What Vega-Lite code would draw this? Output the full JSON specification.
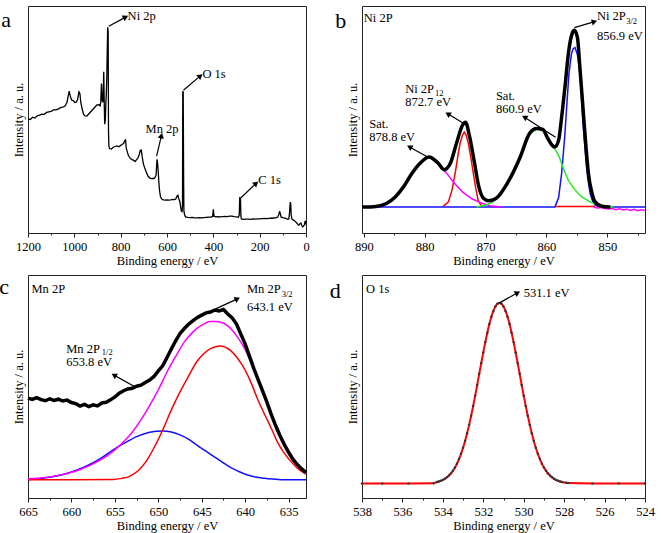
{
"$schema": "https://vega.github.io/schema/vega-lite/v6.json",
"padding": {"left": -2, "top": 5, "right": 4, "bottom": 2},
"background": "white",
"config": {
  "font": "Liberation Serif",
  "view": {"stroke": "#222", "strokeWidth": 1},
  "axis": {"labelFont": "Liberation Serif", "titleFont": "Liberation Serif", "labelFontSize": 12.5, "titleFontSize": 12.5, "titleFontWeight": "normal", "labelColor": "#000", "titleColor": "#000", "domain": false, "grid": false, "tickColor": "#222"},
  "text": {"font": "Liberation Serif", "color": "#000"}
},
"columns": 2,
"spacing": {"row": 42, "column": 56},
"bounds": "flush",
"datasets": {
  "a": [
    {"E":1200,"I":50.3},{"E":1190,"I":50.0},{"E":1180,"I":51.0},{"E":1170,"I":50.7},{"E":1160,"I":51.6},{"E":1150,"I":51.9},{"E":1140,"I":52.4},{"E":1130,"I":52.3},{"E":1120,"I":53.1},{"E":1110,"I":53.4},{"E":1100,"I":53.6},{"E":1090,"I":54.2},{"E":1080,"I":54.3},{"E":1070,"I":54.6},{"E":1060,"I":55.2},{"E":1050,"I":55.4},{"E":1040,"I":55.9},{"E":1032,"I":57.5},{"E":1026,"I":60.5},{"E":1022,"I":62.5},{"E":1018,"I":60.5},{"E":1012,"I":58.6},{"E":1005,"I":58.3},{"E":998,"I":57.5},{"E":992,"I":57.6},{"E":986,"I":58.8},{"E":980,"I":62.2},{"E":976,"I":61.5},{"E":972,"I":57.5},{"E":966,"I":54.5},{"E":960,"I":52.2},{"E":954,"I":51.6},{"E":946,"I":51.5},{"E":938,"I":52.4},{"E":930,"I":53.3},{"E":920,"I":54.4},{"E":910,"I":55.6},{"E":902,"I":56.4},{"E":894,"I":56.5},{"E":889,"I":56.0},{"E":886,"I":57.5},{"E":883,"I":65.8},{"E":880,"I":58.5},{"E":877,"I":57.6},{"E":875,"I":63},{"E":873,"I":71},{"E":871,"I":58},{"E":869,"I":47.9},{"E":866,"I":50},{"E":864,"I":57},{"E":862,"I":61.3},{"E":860,"I":68},{"E":858,"I":80},{"E":856,"I":90.6},{"E":854,"I":89},{"E":852.5,"I":45},{"E":851,"I":38.4},{"E":848,"I":37.2},{"E":840,"I":37.0},{"E":832,"I":37.8},{"E":824,"I":38.1},{"E":816,"I":38.4},{"E":808,"I":38.0},{"E":800,"I":38.6},{"E":794,"I":39.0},{"E":787,"I":39.5},{"E":783,"I":40.6},{"E":779,"I":41.0},{"E":776,"I":37.5},{"E":771,"I":35.5},{"E":766,"I":34.0},{"E":758,"I":32.8},{"E":750,"I":32.3},{"E":744,"I":32.0},{"E":738,"I":31.5},{"E":732,"I":32.2},{"E":726,"I":33.0},{"E":720,"I":34.5},{"E":715,"I":36.4},{"E":711,"I":36.5},{"E":707,"I":33.5},{"E":702,"I":30.5},{"E":696,"I":28.6},{"E":690,"I":27.0},{"E":683,"I":25.2},{"E":676,"I":24.4},{"E":669,"I":24.0},{"E":662,"I":24.1},{"E":656,"I":24.0},{"E":651,"I":24.6},{"E":647,"I":25.5},{"E":645,"I":29.5},{"E":643,"I":32.5},{"E":641,"I":31.0},{"E":638,"I":27.5},{"E":635,"I":22},{"E":632,"I":18.5},{"E":628,"I":16.0},{"E":624,"I":15.2},{"E":621,"I":14.8},{"E":615,"I":14.6},{"E":608,"I":14.5},{"E":600,"I":14.6},{"E":592,"I":14.5},{"E":584,"I":14.6},{"E":576,"I":14.8},{"E":568,"I":14.7},{"E":562,"I":15.0},{"E":557,"I":16.2},{"E":553,"I":16.6},{"E":550,"I":15.3},{"E":545,"I":14.0},{"E":541,"I":11.5},{"E":538,"I":9.6},{"E":535,"I":9.4},{"E":533,"I":12},{"E":532,"I":62.4},{"E":530,"I":62.0},{"E":529,"I":40},{"E":528,"I":21},{"E":527,"I":9.8},{"E":524,"I":8.0},{"E":520,"I":7.1},{"E":510,"I":6.9},{"E":500,"I":6.8},{"E":490,"I":6.9},{"E":480,"I":6.7},{"E":470,"I":6.7},{"E":460,"I":6.8},{"E":450,"I":6.7},{"E":440,"I":6.8},{"E":430,"I":6.9},{"E":420,"I":7.0},{"E":410,"I":7.0},{"E":403,"I":7.3},{"E":400,"I":10.4},{"E":397,"I":7.4},{"E":390,"I":7.1},{"E":380,"I":7.2},{"E":370,"I":7.1},{"E":360,"I":7.2},{"E":350,"I":7.3},{"E":340,"I":7.2},{"E":330,"I":7.4},{"E":320,"I":7.4},{"E":310,"I":7.2},{"E":300,"I":7.1},{"E":292,"I":6.9},{"E":288,"I":8},{"E":286,"I":15.5},{"E":283,"I":15.3},{"E":281,"I":7.5},{"E":279,"I":6.2},{"E":270,"I":6.0},{"E":260,"I":6.1},{"E":250,"I":6.1},{"E":240,"I":6.0},{"E":230,"I":6.2},{"E":220,"I":6.1},{"E":210,"I":6.2},{"E":200,"I":6.2},{"E":190,"I":6.3},{"E":180,"I":6.4},{"E":170,"I":6.3},{"E":160,"I":6.4},{"E":150,"I":6.5},{"E":140,"I":6.6},{"E":130,"I":6.7},{"E":122,"I":7.0},{"E":117,"I":8.2},{"E":114,"I":9.6},{"E":111,"I":8.5},{"E":107,"I":7.0},{"E":100,"I":6.8},{"E":92,"I":6.6},{"E":85,"I":6.3},{"E":78,"I":6.0},{"E":74,"I":6.2},{"E":71,"I":9.0},{"E":68,"I":13.6},{"E":66,"I":13.0},{"E":64,"I":8.0},{"E":61,"I":6.2},{"E":57,"I":5.9},{"E":50,"I":5.4},{"E":44,"I":4.9},{"E":38,"I":4.2},{"E":33,"I":3.4},{"E":29,"I":3.6},{"E":26,"I":4.1},{"E":22,"I":4.4},{"E":19,"I":3.5},{"E":15,"I":2.7},{"E":11,"I":3.0},{"E":7,"I":3.6},{"E":4,"I":5.2},{"E":2,"I":4.5},{"E":0,"I":5.4}
  ],
  "aNote": [
    {"t":"Ni 2p","E":770,"I":95.5,"k":"main"},{"t":"O 1s","E":447,"I":70.1,"k":"main"},{"t":"Mn 2p","E":692.5,"I":46.0,"k":"main"},{"t":"C 1s","E":206,"I":23.2,"k":"main"},
    {"t":"a","E":1316,"I":90.7,"k":"letter"}
  ],
  "aArrow": [
    {"E":851.6,"I":91.1,"E2":778.5,"I2":95.1,"dir":"ENE"},
    {"E":529,"I":62.9,"E2":456,"I2":69.2,"dir":"NE"},
    {"E":645,"I":33.9,"E2":624,"I2":42.9,"dir":"N"},
    {"E":284,"I":15.2,"E2":215,"I2":21.9,"dir":"NE"}
  ],
  "b": [
    {"s":"blue","E":890.3,"I":11.5},{"s":"blue","E":858.6,"I":11.5},{"s":"blue","E":858.0,"I":15.5},{"s":"blue","E":857.5,"I":26.2},{"s":"blue","E":857.0,"I":42},{"s":"blue","E":856.6,"I":58.3},{"s":"blue","E":856.3,"I":70},{"s":"blue","E":855.9,"I":78.8},{"s":"blue","E":855.6,"I":81.2},{"s":"blue","E":855.3,"I":81.7},{"s":"blue","E":854.9,"I":78.5},{"s":"blue","E":854.6,"I":73.0},{"s":"blue","E":854.3,"I":63},{"s":"blue","E":854.05,"I":51.0},{"s":"blue","E":853.8,"I":42},{"s":"blue","E":853.5,"I":32.0},{"s":"blue","E":853.2,"I":24},{"s":"blue","E":852.8,"I":17.4},{"s":"blue","E":852.4,"I":14},{"s":"blue","E":852.0,"I":12.3},{"s":"blue","E":851.2,"I":11.5},{"s":"blue","E":843.8,"I":11.5},
    {"s":"red","E":877.0,"I":11.6},{"s":"red","E":876.1,"I":13.7},{"s":"red","E":875.5,"I":19},{"s":"red","E":875.0,"I":26.2},{"s":"red","E":874.6,"I":33},{"s":"red","E":874.2,"I":39.3},{"s":"red","E":873.8,"I":43},{"s":"red","E":873.5,"I":44.4},{"s":"red","E":873.2,"I":43.3},{"s":"red","E":872.8,"I":39.3},{"s":"red","E":872.4,"I":33},{"s":"red","E":872.0,"I":26.2},{"s":"red","E":871.6,"I":19.5},{"s":"red","E":871.2,"I":14.2},{"s":"red","E":870.6,"I":11.6},
    {"s":"red2","E":858.6,"I":11.7},{"s":"red2","E":852.0,"I":11.7},
    {"s":"mag","E":890.3,"I":11.4},{"s":"mag","E":888,"I":11.7},{"s":"mag","E":886.3,"I":13.0},{"s":"mag","E":884.8,"I":16},{"s":"mag","E":883.3,"I":21},{"s":"mag","E":882.3,"I":25.4},{"s":"mag","E":880.8,"I":30.6},{"s":"mag","E":879.3,"I":33.5},{"s":"mag","E":877.8,"I":30.6},{"s":"mag","E":876.8,"I":27.6},{"s":"mag","E":875.8,"I":24.3},{"s":"mag","E":875.3,"I":22.5},{"s":"mag","E":874.5,"I":20.2},{"s":"mag","E":873.8,"I":18.1},{"s":"mag","E":872.3,"I":15.2},{"s":"mag","E":870.8,"I":13.3},{"s":"mag","E":869.3,"I":12.0},{"s":"mag","E":867.3,"I":11.5},
    {"s":"mag2","E":852.2,"I":11.3},{"s":"mag2","E":851.6,"I":11.0},{"s":"mag2","E":851,"I":11.2},{"s":"mag2","E":850.4,"I":10.8},{"s":"mag2","E":849.8,"I":10.6},{"s":"mag2","E":849.2,"I":10.9},{"s":"mag2","E":848.6,"I":10.3},{"s":"mag2","E":848,"I":10.7},{"s":"mag2","E":847.4,"I":10.1},{"s":"mag2","E":846.8,"I":10.5},{"s":"mag2","E":846.2,"I":9.9},{"s":"mag2","E":845.6,"I":10.4},{"s":"mag2","E":845,"I":9.8},{"s":"mag2","E":844.4,"I":10.2},{"s":"mag2","E":843.8,"I":9.9},
    {"s":"green","E":871.5,"I":11.5},{"s":"green","E":870,"I":12.2},{"s":"green","E":869,"I":13.4},{"s":"green","E":868.3,"I":15.0},{"s":"green","E":866.3,"I":22.3},{"s":"green","E":864.3,"I":33.3},{"s":"green","E":862.8,"I":43.5},{"s":"green","E":861.6,"I":45.8},{"s":"green","E":860.6,"I":45.4},{"s":"green","E":859.8,"I":41.6},{"s":"green","E":859.1,"I":38.6},{"s":"green","E":858.5,"I":36.5},{"s":"green","E":858.0,"I":34.3},{"s":"green","E":857.5,"I":30.6},{"s":"green","E":857.0,"I":27},{"s":"green","E":856.4,"I":23.2},{"s":"green","E":855.3,"I":18.9},{"s":"green","E":854.2,"I":15.9},{"s":"green","E":852.8,"I":13.7},{"s":"green","E":852.0,"I":12.7},{"s":"green","E":850.9,"I":11.5},{"s":"green","E":849,"I":11.5},
    {"s":"data","E":890.3,"I":11.4},{"s":"data","E":888,"I":11.7},{"s":"data","E":886.3,"I":13.0},{"s":"data","E":884.8,"I":16},{"s":"data","E":883.3,"I":21},{"s":"data","E":882.3,"I":25.4},{"s":"data","E":880.8,"I":30.6},{"s":"data","E":879.3,"I":33.5},{"s":"data","E":877.8,"I":30.8},{"s":"data","E":876.8,"I":27.9},{"s":"data","E":875.8,"I":30.6},{"s":"data","E":874.8,"I":39.3},{"s":"data","E":873.8,"I":47.4},{"s":"data","E":873.3,"I":48.8},{"s":"data","E":872.6,"I":42.2},{"s":"data","E":871.8,"I":30.6},{"s":"data","E":871.1,"I":20.3},{"s":"data","E":870.3,"I":15.2},{"s":"data","E":869.5,"I":14.2},{"s":"data","E":868.3,"I":15.2},{"s":"data","E":866.3,"I":22.5},{"s":"data","E":864.3,"I":33.5},{"s":"data","E":862.8,"I":43.7},{"s":"data","E":861.6,"I":46.0},{"s":"data","E":860.6,"I":45.6},{"s":"data","E":859.8,"I":41.8},{"s":"data","E":859.1,"I":38.8},{"s":"data","E":858.6,"I":37.9},{"s":"data","E":858.0,"I":40.8},{"s":"data","E":857.5,"I":51.0},{"s":"data","E":856.9,"I":65.6},{"s":"data","E":856.4,"I":78.8},{"s":"data","E":855.8,"I":87.6},{"s":"data","E":855.4,"I":89.3},{"s":"data","E":854.9,"I":86.1},{"s":"data","E":854.5,"I":73.0},{"s":"data","E":854.0,"I":55.4},{"s":"data","E":853.5,"I":37.9},{"s":"data","E":853.1,"I":26.2},{"s":"data","E":852.5,"I":17.4},{"s":"data","E":852.0,"I":13.7},{"s":"data","E":850.9,"I":11.8},{"s":"data","E":849.5,"I":11.4}
  ],
  "bNote": [
    {"t":"Ni 2P","E":890.0,"I":94.9,"k":"main"},
    {"t":"Ni 2P","E":851.7,"I":95.6,"k":"main"},
    {"t":"3/2","E":846.9,"I":93.4,"k":"sub"},
    {"t":"856.9 eV","E":851.7,"I":86.8,"k":"main"},
    {"t":"Ni 2P","E":883.2,"I":63.6,"k":"main"},
    {"t":"12","E":878.3,"I":61.8,"k":"sub"},
    {"t":"872.7 eV","E":883.2,"I":57.6,"k":"main"},
    {"t":"Sat.","E":889.1,"I":48.1,"k":"main"},
    {"t":"878.8 eV","E":889.1,"I":42.2,"k":"main"},
    {"t":"Sat.","E":868.3,"I":60.5,"k":"main"},
    {"t":"860.9 eV","E":868.3,"I":54.7,"k":"main"},
    {"t":"b","E":894.7,"I":90.3,"k":"letter"}
  ],
  "bArrow": [
    {"E":855.4,"I":90.5,"E2":852.1,"I2":93.1,"dir":"E"},
    {"E":858.5,"I":42.2,"E2":863.6,"I2":51.0,"dir":"W"},
    {"E":873.5,"I":48.1,"E2":876.2,"I2":52.5,"dir":"W"},
    {"E":879.5,"I":33.5,"E2":882.5,"I2":37.9,"dir":"W"}
  ],
  "c": [
    {"s":"blue","E":665,"I":8.2},{"s":"blue","E":662.5,"I":9.3},{"s":"blue","E":661.05,"I":10.4},{"s":"blue","E":659.5,"I":12.3},{"s":"blue","E":657.95,"I":14.9},{"s":"blue","E":656.5,"I":18.1},{"s":"blue","E":655.2,"I":21.6},{"s":"blue","E":653.8,"I":24.8},{"s":"blue","E":652.5,"I":27.5},{"s":"blue","E":651.0,"I":29.5},{"s":"blue","E":649.5,"I":30.1},{"s":"blue","E":648.5,"I":29.6},{"s":"blue","E":647.5,"I":28.3},{"s":"blue","E":646.5,"I":26.3},{"s":"blue","E":645.6,"I":23.8},{"s":"blue","E":644.6,"I":21.2},{"s":"blue","E":643.6,"I":18.6},{"s":"blue","E":642.6,"I":16.0},{"s":"blue","E":641.7,"I":13.7},{"s":"blue","E":640.8,"I":12.0},{"s":"blue","E":639.8,"I":10.4},{"s":"blue","E":638.8,"I":9.4},{"s":"blue","E":637.8,"I":8.9},{"s":"blue","E":636.8,"I":8.5},{"s":"blue","E":635.9,"I":8.2},{"s":"blue","E":633,"I":8.2},
    {"s":"red","E":665,"I":8.2},{"s":"red","E":660,"I":8.2},{"s":"red","E":655.2,"I":8.3},{"s":"red","E":654.2,"I":8.8},{"s":"red","E":653.3,"I":9.7},{"s":"red","E":652.3,"I":12.3},{"s":"red","E":651.4,"I":16.4},{"s":"red","E":650.4,"I":23.2},{"s":"red","E":649.4,"I":31.3},{"s":"red","E":648.5,"I":39.5},{"s":"red","E":647.5,"I":47.6},{"s":"red","E":646.5,"I":54.8},{"s":"red","E":645.6,"I":61.0},{"s":"red","E":644.8,"I":64.6},{"s":"red","E":644.0,"I":67.0},{"s":"red","E":642.9,"I":68.2},{"s":"red","E":641.7,"I":66.2},{"s":"red","E":640.9,"I":62.8},{"s":"red","E":640.1,"I":58.0},{"s":"red","E":639.3,"I":51.5},{"s":"red","E":638.6,"I":44.6},{"s":"red","E":637.8,"I":37.8},{"s":"red","E":637.0,"I":31.3},{"s":"red","E":636.3,"I":25.2},{"s":"red","E":635.5,"I":20.1},{"s":"red","E":634.7,"I":16.2},{"s":"red","E":634.0,"I":13.4},{"s":"red","E":633.0,"I":10.7},
    {"s":"mag","E":665,"I":8.6},{"s":"mag","E":663,"I":9.2},{"s":"mag","E":661,"I":10.6},{"s":"mag","E":659,"I":12.8},{"s":"mag","E":657,"I":16.3},{"s":"mag","E":655,"I":21.6},{"s":"mag","E":654,"I":25.2},{"s":"mag","E":653,"I":29.5},{"s":"mag","E":652,"I":35},{"s":"mag","E":651,"I":41.4},{"s":"mag","E":650,"I":48.5},{"s":"mag","E":649,"I":56.5},{"s":"mag","E":648,"I":63.5},{"s":"mag","E":647,"I":70.0},{"s":"mag","E":646,"I":74.5},{"s":"mag","E":645,"I":77.5},{"s":"mag","E":644,"I":79.1},{"s":"mag","E":643.5,"I":79.2},{"s":"mag","E":643,"I":79.0},{"s":"mag","E":642,"I":77.2},{"s":"mag","E":641,"I":72.8},{"s":"mag","E":640,"I":66.5},{"s":"mag","E":639,"I":57.5},{"s":"mag","E":638,"I":47.8},{"s":"mag","E":637,"I":37.8},{"s":"mag","E":636,"I":28.6},{"s":"mag","E":635,"I":21.2},{"s":"mag","E":634,"I":15.3},{"s":"mag","E":633,"I":10.8},
    {"s":"data","E":665.0,"I":44.8},{"s":"data","E":664.5,"I":44.2},{"s":"data","E":664.0,"I":45.0},{"s":"data","E":663.5,"I":44.1},{"s":"data","E":663.0,"I":43.6},{"s":"data","E":662.5,"I":44.5},{"s":"data","E":662.0,"I":43.8},{"s":"data","E":661.5,"I":44.3},{"s":"data","E":661.0,"I":43.5},{"s":"data","E":660.5,"I":43.9},{"s":"data","E":660.0,"I":42.8},{"s":"data","E":659.5,"I":42.3},{"s":"data","E":659.0,"I":41.2},{"s":"data","E":658.5,"I":42.0},{"s":"data","E":658.0,"I":41.0},{"s":"data","E":657.5,"I":41.8},{"s":"data","E":657.0,"I":41.3},{"s":"data","E":656.5,"I":42.6},{"s":"data","E":656.0,"I":42.9},{"s":"data","E":655.5,"I":44.0},{"s":"data","E":655.0,"I":45.3},{"s":"data","E":654.5,"I":47.0},{"s":"data","E":654.0,"I":48.1},{"s":"data","E":653.5,"I":48.9},{"s":"data","E":653.0,"I":49.2},{"s":"data","E":652.5,"I":50.1},{"s":"data","E":652.0,"I":50.6},{"s":"data","E":651.5,"I":51.8},{"s":"data","E":651.0,"I":52.9},{"s":"data","E":650.5,"I":54.5},{"s":"data","E":650.0,"I":57.0},{"s":"data","E":649.5,"I":59.3},{"s":"data","E":649.0,"I":63.0},{"s":"data","E":648.5,"I":66.8},{"s":"data","E":648.0,"I":70.5},{"s":"data","E":647.5,"I":73.8},{"s":"data","E":647.0,"I":76.0},{"s":"data","E":646.5,"I":78.0},{"s":"data","E":646.0,"I":79.5},{"s":"data","E":645.5,"I":81.0},{"s":"data","E":645.0,"I":82.0},{"s":"data","E":644.5,"I":83.0},{"s":"data","E":644.0,"I":83.4},{"s":"data","E":643.5,"I":84.3},{"s":"data","E":643.0,"I":83.9},{"s":"data","E":642.5,"I":84.5},{"s":"data","E":642.0,"I":82.5},{"s":"data","E":641.5,"I":80.8},{"s":"data","E":641.0,"I":78.0},{"s":"data","E":640.5,"I":73.5},{"s":"data","E":640.0,"I":69.0},{"s":"data","E":639.5,"I":63.5},{"s":"data","E":639.0,"I":58.0},{"s":"data","E":638.5,"I":53.0},{"s":"data","E":638.0,"I":48.0},{"s":"data","E":637.5,"I":43.0},{"s":"data","E":637.0,"I":37.5},{"s":"data","E":636.5,"I":32.5},{"s":"data","E":636.0,"I":28.0},{"s":"data","E":635.5,"I":24.0},{"s":"data","E":635.0,"I":20.5},{"s":"data","E":634.5,"I":17.3},{"s":"data","E":634.0,"I":15.0},{"s":"data","E":633.5,"I":13.0},{"s":"data","E":633.0,"I":11.5}
  ],
  "cNote": [
    {"t":"Mn 2P","E":664.6,"I":93.7,"k":"main"},
    {"t":"Mn 2P","E":639.8,"I":93.7,"k":"main"},
    {"t":"3/2","E":635.8,"I":91.5,"k":"sub"},
    {"t":"643.1 eV","E":639.8,"I":85.6,"k":"main"},
    {"t":"Mn 2P","E":660.6,"I":67.0,"k":"main"},
    {"t":"1/2","E":656.5,"I":65.3,"k":"sub"},
    {"t":"653.8 eV","E":660.6,"I":61.0,"k":"main"},
    {"t":"c","E":668.3,"I":91.3,"k":"letter"}
  ],
  "cArrow": [
    {"E":643.4,"I":84.8,"E2":640.9,"I2":89.3,"dir":"ENE"},
    {"E":652.7,"I":49.9,"E2":655.1,"I2":55.1,"dir":"W"}
  ],
  "d": [
    {"E":538,"I":6.5},{"E":537.0,"I":6.5},{"E":535.7,"I":6.5},{"E":534.45,"I":6.6},{"E":534.3,"I":7.15},{"E":534.2,"I":7.4},{"E":534.1,"I":7.7},{"E":534.0,"I":8.1},{"E":533.9,"I":8.6},{"E":533.8,"I":9.3},{"E":533.7,"I":10.1},{"E":533.6,"I":11.0},{"E":533.5,"I":12.25},{"E":533.4,"I":13.7},{"E":533.3,"I":15.4},{"E":533.2,"I":17.5},{"E":533.1,"I":19.8},{"E":533.0,"I":22.5},{"E":532.9,"I":25.6},{"E":532.8,"I":29.0},{"E":532.7,"I":32.8},{"E":532.6,"I":36.9},{"E":532.5,"I":41.3},{"E":532.4,"I":45.9},{"E":532.3,"I":50.7},{"E":532.2,"I":55.7},{"E":532.1,"I":60.5},{"E":532.0,"I":65.3},{"E":531.9,"I":69.9},{"E":531.8,"I":74.1},{"E":531.7,"I":78.0},{"E":531.6,"I":81.3},{"E":531.5,"I":83.9},{"E":531.4,"I":85.9},{"E":531.3,"I":87.1},{"E":531.2,"I":87.5},{"E":531.1,"I":87.1},{"E":531.0,"I":85.9},{"E":530.9,"I":83.9},{"E":530.8,"I":81.3},{"E":530.7,"I":78.0},{"E":530.6,"I":74.1},{"E":530.5,"I":69.9},{"E":530.4,"I":65.3},{"E":530.3,"I":60.5},{"E":530.2,"I":55.7},{"E":530.1,"I":50.7},{"E":530.0,"I":45.9},{"E":529.9,"I":41.3},{"E":529.8,"I":36.9},{"E":529.7,"I":32.8},{"E":529.6,"I":29.0},{"E":529.5,"I":25.6},{"E":529.4,"I":22.5},{"E":529.3,"I":19.8},{"E":529.2,"I":17.5},{"E":529.1,"I":15.4},{"E":529.0,"I":13.7},{"E":528.9,"I":12.25},{"E":528.8,"I":11.0},{"E":528.7,"I":10.1},{"E":528.6,"I":9.3},{"E":528.5,"I":8.6},{"E":528.4,"I":8.1},{"E":528.3,"I":7.7},{"E":528.2,"I":7.4},{"E":528.1,"I":7.15},{"E":527.9,"I":6.8},{"E":527.8,"I":6.7},{"E":526.6,"I":6.5},{"E":525.3,"I":6.5},{"E":524,"I":6.5}
  ],
  "dNote": [
    {"t":"O 1s","E":537.8,"I":93.8,"k":"main"},{"t":"531.1 eV","E":530.0,"I":92.0,"k":"main"},
    {"t":"d","E":539.6,"I":89.6,"k":"letter"}
  ],
  "dArrow": [
    {"E":531.2,"I":87.5,"E2":530.3,"I2":92.0,"dir":"ENE"}
  ]
},
"concat": [
  {
    "width": 278, "height": 227,
    "encoding": {
      "x": {"field": "E", "type": "quantitative", "scale": {"domain": [1200, 0], "nice": false, "zero": false},
        "axis": {"title": "Binding energy / eV", "format": "d", "values": [1200,1100,1000,900,800,700,600,500,400,300,200,100,0], "labelExpr": "datum.value % 200 == 0 ? datum.label : ''", "tickSize": {"condition": {"test": "datum.value % 200 == 0", "value": 4}, "value": 2}, "labelPadding": 3, "titlePadding": 2, "labelFlush": false, "labelOverlap": false}},
      "y": {"field": "I", "type": "quantitative", "scale": {"domain": [0, 100], "nice": false}, "axis": {"title": "Intensity / a. u.", "labels": false, "ticks": false, "titlePadding": 3}}
    },
    "layer": [
      {"data": {"name": "a"}, "mark": {"type": "line", "color": "#000", "strokeWidth": 1.3}},
      {"data": {"name": "aArrow"}, "mark": {"type": "rule", "color": "#000", "strokeWidth": 1.2}, "encoding": {"x2": {"field": "E2"}, "y2": {"field": "I2"}}},
      {"data": {"name": "aArrow"}, "mark": {"type": "point", "shape": "triangle-right", "filled": true, "color": "#000", "size": 40, "opacity": 1},
        "encoding": {"x": {"field": "E2", "type": "quantitative"}, "y": {"field": "I2", "type": "quantitative"}, "angle": {"field": "dir", "type": "nominal", "scale": {"type": "ordinal", "domain": ["E","ENE","NE","N","W"], "range": [343,332,320,285,210]}, "legend": null}}},
      {"data": {"name": "aNote"}, "transform": [{"filter": "datum.k == 'main'"}], "mark": {"type": "text", "align": "left", "baseline": "middle", "fontSize": 12.5}, "encoding": {"text": {"field": "t"}}},
      {"data": {"name": "aNote"}, "transform": [{"filter": "datum.k == 'letter'"}], "mark": {"type": "text", "align": "left", "baseline": "alphabetic", "fontSize": 22}, "encoding": {"text": {"field": "t"}}}
    ]
  },
  {
    "width": 283, "height": 227,
    "encoding": {
      "x": {"field": "E", "type": "quantitative", "scale": {"domain": [890.3, 843.8], "nice": false, "zero": false},
        "axis": {"title": "Binding energy / eV", "format": "d", "values": [890,885,880,875,870,865,860,855,850,845], "labelExpr": "datum.value % 10 == 0 ? datum.label : ''", "tickSize": {"condition": {"test": "datum.value % 10 == 0", "value": 4}, "value": 2}, "labelPadding": 3, "titlePadding": 2, "labelFlush": false, "labelOverlap": false}},
      "y": {"field": "I", "type": "quantitative", "scale": {"domain": [0, 100], "nice": false}, "axis": {"title": "Intensity / a. u.", "labels": false, "ticks": false, "titlePadding": 3}}
    },
    "layer": [
      {"data": {"name": "b"}, "transform": [{"filter": "datum.s == 'blue'"}], "mark": {"type": "line", "color": "#1010ff", "strokeWidth": 1.5}},
      {"data": {"name": "b"}, "transform": [{"filter": "datum.s == 'red' || datum.s == 'red2'"}], "mark": {"type": "line", "color": "#ff0000", "strokeWidth": 1.5}, "encoding": {"detail": {"field": "s"}}},
      {"data": {"name": "b"}, "transform": [{"filter": "datum.s == 'mag' || datum.s == 'mag2'"}], "mark": {"type": "line", "color": "#ff00ff", "strokeWidth": 1.5}, "encoding": {"detail": {"field": "s"}}},
      {"data": {"name": "b"}, "transform": [{"filter": "datum.s == 'green'"}], "mark": {"type": "line", "color": "#22ee22", "strokeWidth": 1.5}},
      {"data": {"name": "b"}, "transform": [{"filter": "datum.s == 'data'"}], "mark": {"type": "line", "color": "#000", "strokeWidth": 3.5, "interpolate": "monotone"}},
      {"data": {"name": "bArrow"}, "mark": {"type": "rule", "color": "#000", "strokeWidth": 1.2}, "encoding": {"x2": {"field": "E2"}, "y2": {"field": "I2"}}},
      {"data": {"name": "bArrow"}, "mark": {"type": "point", "shape": "triangle-right", "filled": true, "color": "#000", "size": 40, "opacity": 1},
        "encoding": {"x": {"field": "E2", "type": "quantitative"}, "y": {"field": "I2", "type": "quantitative"}, "angle": {"field": "dir", "type": "nominal", "scale": {"type": "ordinal", "domain": ["E","ENE","NE","N","W"], "range": [343,332,320,285,210]}, "legend": null}}},
      {"data": {"name": "bNote"}, "transform": [{"filter": "datum.k == 'main'"}], "mark": {"type": "text", "align": "left", "baseline": "middle", "fontSize": 12.5}, "encoding": {"text": {"field": "t"}}},
      {"data": {"name": "bNote"}, "transform": [{"filter": "datum.k == 'sub'"}], "mark": {"type": "text", "align": "left", "baseline": "middle", "fontSize": 8.5}, "encoding": {"text": {"field": "t"}}},
      {"data": {"name": "bNote"}, "transform": [{"filter": "datum.k == 'letter'"}], "mark": {"type": "text", "align": "left", "baseline": "alphabetic", "fontSize": 22}, "encoding": {"text": {"field": "t"}}}
    ]
  },
  {
    "width": 278, "height": 223,
    "encoding": {
      "x": {"field": "E", "type": "quantitative", "scale": {"domain": [665, 633], "nice": false, "zero": false},
        "axis": {"title": "Binding energy / eV", "format": "d", "values": [665,662.5,660,657.5,655,652.5,650,647.5,645,642.5,640,637.5,635], "labelExpr": "datum.value % 5 == 0 ? datum.label : ''", "tickSize": {"condition": {"test": "datum.value % 5 == 0", "value": 4}, "value": 2}, "labelPadding": 3, "titlePadding": 2, "labelFlush": false, "labelOverlap": false}},
      "y": {"field": "I", "type": "quantitative", "scale": {"domain": [0, 100], "nice": false}, "axis": {"title": "Intensity / a. u.", "labels": false, "ticks": false, "titlePadding": 3}}
    },
    "layer": [
      {"data": {"name": "c"}, "transform": [{"filter": "datum.s == 'blue'"}], "mark": {"type": "line", "color": "#1010ff", "strokeWidth": 1.5, "interpolate": "monotone"}},
      {"data": {"name": "c"}, "transform": [{"filter": "datum.s == 'red'"}], "mark": {"type": "line", "color": "#ff0000", "strokeWidth": 1.5, "interpolate": "monotone"}},
      {"data": {"name": "c"}, "transform": [{"filter": "datum.s == 'mag'"}], "mark": {"type": "line", "color": "#ff00ff", "strokeWidth": 1.5, "interpolate": "monotone"}},
      {"data": {"name": "c"}, "transform": [{"filter": "datum.s == 'data'"}], "mark": {"type": "line", "color": "#000", "strokeWidth": 3.5}},
      {"data": {"name": "cArrow"}, "mark": {"type": "rule", "color": "#000", "strokeWidth": 1.2}, "encoding": {"x2": {"field": "E2"}, "y2": {"field": "I2"}}},
      {"data": {"name": "cArrow"}, "mark": {"type": "point", "shape": "triangle-right", "filled": true, "color": "#000", "size": 40, "opacity": 1},
        "encoding": {"x": {"field": "E2", "type": "quantitative"}, "y": {"field": "I2", "type": "quantitative"}, "angle": {"field": "dir", "type": "nominal", "scale": {"type": "ordinal", "domain": ["E","ENE","NE","N","W"], "range": [343,332,320,285,210]}, "legend": null}}},
      {"data": {"name": "cNote"}, "transform": [{"filter": "datum.k == 'main'"}], "mark": {"type": "text", "align": "left", "baseline": "middle", "fontSize": 12.5}, "encoding": {"text": {"field": "t"}}},
      {"data": {"name": "cNote"}, "transform": [{"filter": "datum.k == 'sub'"}], "mark": {"type": "text", "align": "left", "baseline": "middle", "fontSize": 8.5}, "encoding": {"text": {"field": "t"}}},
      {"data": {"name": "cNote"}, "transform": [{"filter": "datum.k == 'letter'"}], "mark": {"type": "text", "align": "left", "baseline": "alphabetic", "fontSize": 22}, "encoding": {"text": {"field": "t"}}}
    ]
  },
  {
    "width": 283, "height": 223,
    "encoding": {
      "x": {"field": "E", "type": "quantitative", "scale": {"domain": [538, 524], "nice": false, "zero": false},
        "axis": {"title": "Binding energy / eV", "format": "d", "values": [538,537,536,535,534,533,532,531,530,529,528,527,526,525,524], "labelExpr": "datum.value % 2 == 0 ? datum.label : ''", "tickSize": {"condition": {"test": "datum.value % 2 == 0", "value": 4}, "value": 2}, "labelPadding": 3, "titlePadding": 2, "labelFlush": false, "labelOverlap": false}},
      "y": {"field": "I", "type": "quantitative", "scale": {"domain": [0, 100], "nice": false}, "axis": {"title": "Intensity / a. u.", "labels": false, "ticks": false, "titlePadding": 3}}
    },
    "layer": [
      {"data": {"name": "d"}, "mark": {"type": "line", "color": "#ff0000", "strokeWidth": 2, "interpolate": "monotone"}},
      {"data": {"name": "d"}, "mark": {"type": "point", "filled": true, "color": "#333", "size": 6, "opacity": 1}},
      {"data": {"name": "dArrow"}, "mark": {"type": "rule", "color": "#000", "strokeWidth": 1.2}, "encoding": {"x2": {"field": "E2"}, "y2": {"field": "I2"}}},
      {"data": {"name": "dArrow"}, "mark": {"type": "point", "shape": "triangle-right", "filled": true, "color": "#000", "size": 40, "opacity": 1},
        "encoding": {"x": {"field": "E2", "type": "quantitative"}, "y": {"field": "I2", "type": "quantitative"}, "angle": {"field": "dir", "type": "nominal", "scale": {"type": "ordinal", "domain": ["E","ENE","NE","N","W"], "range": [343,332,320,285,210]}, "legend": null}}},
      {"data": {"name": "dNote"}, "transform": [{"filter": "datum.k == 'main'"}], "mark": {"type": "text", "align": "left", "baseline": "middle", "fontSize": 12.5}, "encoding": {"text": {"field": "t"}}},
      {"data": {"name": "dNote"}, "transform": [{"filter": "datum.k == 'letter'"}], "mark": {"type": "text", "align": "left", "baseline": "alphabetic", "fontSize": 22}, "encoding": {"text": {"field": "t"}}}
    ]
  }
]
}
